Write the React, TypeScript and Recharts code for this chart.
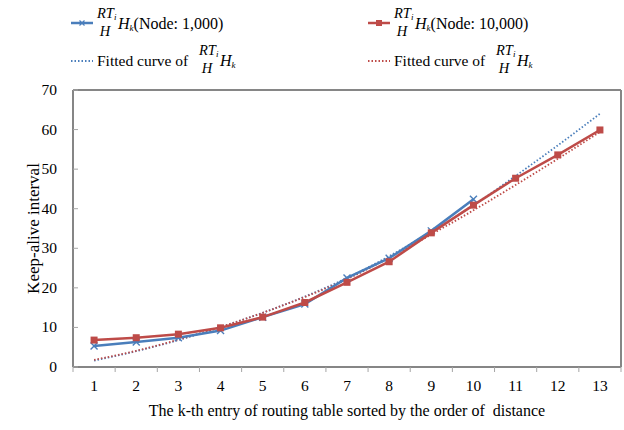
import React from 'react';
import { LineChart, Line, XAxis, YAxis, CartesianGrid, Legend } from 'recharts';

// k-th routing table entry (sorted by distance)
const entryIndex = [1, 2, 3, 4, 5, 6, 7, 8, 9, 10, 11, 12, 13];

// Keep-alive interval measured for each entry
const keepAliveNode1k: (number | null)[] = [5.3, 6.3, 7.4, 9.2, 12.6, 15.9, 22.5, 27.5, 34.4, 42.4, null, null, null];
const keepAliveNode10k: number[] = [6.8, 7.4, 8.3, 9.9, 12.6, 16.3, 21.4, 26.6, 33.9, 40.9, 47.7, 53.6, 59.9];

// Trend curves fitted to each series
const fittedNode1k: number[] = [1.6, 4.0, 6.8, 10.1, 13.7, 17.8, 22.5, 28.0, 34.2, 40.9, 48.3, 56.0, 64.0];
const fittedNode10k: number[] = [1.8, 4.1, 6.9, 10.1, 13.7, 17.7, 22.2, 27.6, 33.5, 39.6, 46.0, 52.6, 59.4];

const yTicks = [0, 10, 20, 30, 40, 50, 60, 70];

const xTitle = 'The k-th entry of routing table sorted by the order of\u00A0 distance';
const yTitle = 'Keep-alive interval';

const rows = entryIndex.map((k, i) => ({
  k,
  node1k: keepAliveNode1k[i],
  node10k: keepAliveNode10k[i],
  fit1k: fittedNode1k[i],
  fit10k: fittedNode10k[i],
}));

// integer positions carry labels, half positions carry the tick marks between entries
const xTicks = [entryIndex[0] - 0.5, ...entryIndex.flatMap((k) => [k, k + 0.5])];

const SERIF = "'Liberation Serif', 'Times New Roman', serif";
const BLUE = '#4A7EBB';
const RED = '#BE4B48';
const FRAME = '#868686';
const TICK = '#a6a6a6';
const X_TICK_MARGIN = 19;
const Y_TICK_MARGIN = 16;

const XTick = (props: any) => {
  const { x, y, payload } = props;
  const v = payload.value as number;
  const axisY = y - X_TICK_MARGIN;
  if (Number.isInteger(v)) {
    return (
      <text x={x} y={y} dy={5} textAnchor="middle" fontFamily={SERIF} fontSize={15.5} fill="#000">
        {v}
      </text>
    );
  }
  return <line x1={x} x2={x} y1={axisY} y2={axisY + 5} stroke={TICK} strokeWidth={1} />;
};

const YTick = (props: any) => {
  const { x, y, payload } = props;
  const axisX = x + Y_TICK_MARGIN;
  return (
    <g>
      <line x1={axisX} x2={axisX + 5} y1={y} y2={y} stroke={TICK} strokeWidth={1} />
      <text x={x} y={y} dy={5} textAnchor="end" fontFamily={SERIF} fontSize={15.5} fill="#000">
        {payload.value}
      </text>
    </g>
  );
};

const CrossDot = (props: any) => {
  const { cx, cy, value } = props;
  if (cx == null || cy == null || value == null) return <g />;
  return (
    <g stroke={BLUE} strokeWidth={1.4}>
      <line x1={cx - 3.5} y1={cy - 3.5} x2={cx + 3.5} y2={cy + 3.5} />
      <line x1={cx - 3.5} y1={cy + 3.5} x2={cx + 3.5} y2={cy - 3.5} />
    </g>
  );
};

const SquareDot = (props: any) => {
  const { cx, cy, value } = props;
  if (cx == null || cy == null || value == null) return <g />;
  return <rect x={cx - 3.5} y={cy - 3.5} width={7} height={7} fill={RED} />;
};

// RT_i / H stacked fraction followed by H_k
const Formula = ({ x, baseline, tail }: { x: number; baseline: number; tail?: string }) => (
  <g fontFamily={SERIF} fill="#000">
    <text x={x} y={baseline - 11} fontSize={14.5} fontStyle="italic">
      RT<tspan fontSize={9} dy={2}>i</tspan>
    </text>
    <text x={x + 8} y={baseline + 7} fontSize={14.5} fontStyle="italic" textAnchor="middle">
      H
    </text>
    <text x={x + 21} y={baseline} fontSize={16}>
      <tspan fontStyle="italic">H</tspan>
      <tspan fontStyle="italic" fontSize={9} dy={2}>k</tspan>
      {tail ? <tspan dy={-2}>{tail}</tspan> : null}
    </text>
  </g>
);

const LegendBlock = ({ dx, color, marker, node }: { dx: number; color: string; marker: 'cross' | 'square'; node: string }) => (
  <g transform={`translate(${dx},0)`}>
    <line x1={71} x2={93} y1={23} y2={23} stroke={color} strokeWidth={2.5} />
    {marker === 'cross' ? (
      <g stroke={color} strokeWidth={1.2}>
        <line x1={79.5} y1={20.5} x2={84.5} y2={25.5} />
        <line x1={79.5} y1={25.5} x2={84.5} y2={20.5} />
      </g>
    ) : (
      <rect x={79} y={20} width={6} height={6} fill={color} />
    )}
    <Formula x={97} baseline={29} tail={`(Node: ${node})`} />
    <line x1={71} x2={93} y1={61} y2={61} stroke={color} strokeWidth={1.8} strokeDasharray="1.5 2" />
    <text x={97} y={66} fontFamily={SERIF} fontSize={15.5} fill="#000">
      Fitted curve of
    </text>
    <Formula x={199} baseline={66} />
  </g>
);

const renderLegend = () => (
  <svg width={624} height={80} style={{ display: 'block' }}>
    <LegendBlock dx={0} color={BLUE} marker="cross" node="1,000" />
    <LegendBlock dx={297} color={RED} marker="square" node="10,000" />
  </svg>
);

export default function App() {
  return (
    <div style={{ position: 'absolute', left: 0, top: 0, width: 624, height: 430, background: '#fff' }}>
      <LineChart width={624} height={430} data={rows} margin={{ top: 90, right: 3, bottom: 0, left: 0 }}>
        <CartesianGrid
          stroke={FRAME}
          strokeWidth={2}
          horizontalCoordinatesGenerator={({ offset }: any) => [offset.top, offset.top + offset.height]}
          verticalCoordinatesGenerator={({ offset }: any) => [offset.left, offset.left + offset.width]}
        />
        <XAxis
          dataKey="k"
          type="number"
          domain={[0.5, 13.5]}
          ticks={xTicks}
          interval={0}
          tickSize={0}
          tickMargin={X_TICK_MARGIN}
          tickLine={false}
          axisLine={false}
          tick={XTick}
          height={63}
          label={{ value: xTitle, position: 'insideBottom', offset: 14, fontFamily: SERIF, fontSize: 16, fill: '#000' }}
        />
        <YAxis
          type="number"
          domain={[0, 70]}
          ticks={yTicks}
          interval={0}
          tickSize={0}
          tickMargin={Y_TICK_MARGIN}
          tickLine={false}
          axisLine={false}
          tick={YTick}
          width={73}
          label={{ value: yTitle, angle: -90, position: 'insideLeft', offset: 33, fontFamily: SERIF, fontSize: 17, fill: '#000', style: { textAnchor: 'middle' } }}
        />
        <Legend verticalAlign="middle" align="center" content={renderLegend} wrapperStyle={{ top: 0, left: 0, width: 624, height: 80 }} />
        <Line dataKey="fit1k" type="monotone" stroke={BLUE} strokeWidth={1.8} strokeDasharray="1.5 2" dot={false} isAnimationActive={false} />
        <Line dataKey="fit10k" type="monotone" stroke={RED} strokeWidth={1.8} strokeDasharray="1.5 2" dot={false} isAnimationActive={false} />
        <Line dataKey="node1k" type="linear" stroke={BLUE} strokeWidth={2.5} dot={CrossDot} isAnimationActive={false} />
        <Line dataKey="node10k" type="linear" stroke={RED} strokeWidth={2.5} dot={SquareDot} isAnimationActive={false} />
      </LineChart>
    </div>
  );
}
